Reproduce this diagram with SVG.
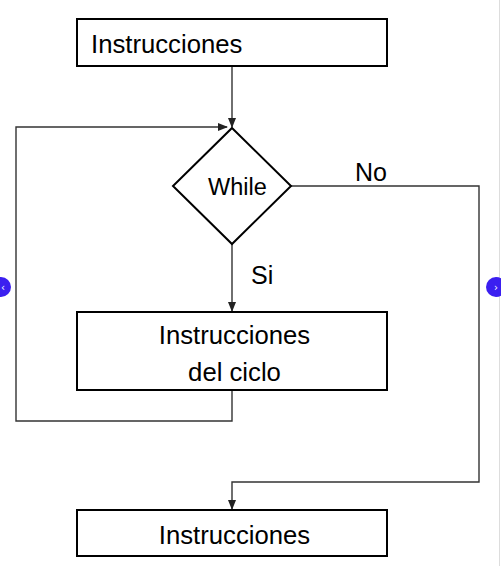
<svg xmlns="http://www.w3.org/2000/svg" width="501" height="566" viewBox="0 0 501 566">
<style>
.box{fill:#fff;stroke:#000;stroke-width:2}
.t{font-family:"Liberation Sans",Arial,sans-serif;fill:#000}
.c{fill:none;stroke:#333;stroke-width:1.4}
</style>
<defs>
<marker id="ah" markerWidth="10" markerHeight="8" refX="9" refY="4" orient="auto" markerUnits="userSpaceOnUse">
<path d="M0,0 L10,4 L0,8 z" fill="#222"/>
</marker>
</defs>
<rect width="501" height="566" fill="#fff"/>
<line x1="499.5" y1="0" x2="499.5" y2="566" stroke="#ddd" stroke-width="1"/>
<g id="connectors">
<path class="c" d="M232,66 V127" marker-end="url(#ah)"/>
<path class="c" d="M232,390 V421 H16 V127 H227" marker-end="url(#ah)"/>
<path class="c" d="M232,244 V311" marker-end="url(#ah)"/>
<path class="c" d="M291,186 H479 V482 H232 V509" marker-end="url(#ah)"/>
<text class="t" x="355" y="181" font-size="25">No</text>
<text class="t" x="251" y="284" font-size="25">Si</text>
</g>
<g id="start">
<rect class="box" x="77" y="19" width="310" height="47"/>
<text class="t" x="91" y="53" font-size="25.7">Instrucciones</text>
</g>
<g id="while">
<path class="box" d="M232,128 L291,186 L232,244 L173,186 Z"/>
<text class="t" x="237.5" y="195" font-size="23.5" text-anchor="middle">While</text>
</g>
<g id="body">
<rect class="box" x="77" y="312" width="310" height="78"/>
<text class="t" x="234.5" y="344" font-size="25.7" text-anchor="middle">Instrucciones</text>
<text class="t" x="234.5" y="381" font-size="25.7" text-anchor="middle">del ciclo</text>
</g>
<g id="end">
<rect class="box" x="77" y="510" width="310" height="46"/>
<text class="t" x="234.5" y="544" font-size="25.7" text-anchor="middle">Instrucciones</text>
</g>
<g id="nav">
<circle cx="1" cy="287" r="10" fill="#3b1ff0"/>
<text x="1" y="291" font-size="10" font-family="'DejaVu Sans',sans-serif" fill="#fff">‹</text>
<circle cx="496" cy="287" r="10" fill="#3b1ff0"/>
<text x="496" y="291" font-size="10" font-family="'DejaVu Sans',sans-serif" fill="#fff" text-anchor="middle">›</text>
</g>
</svg>
